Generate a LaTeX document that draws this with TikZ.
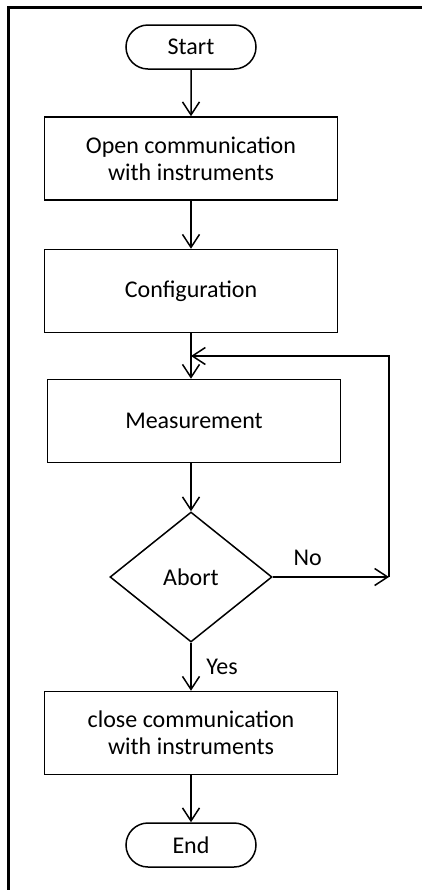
\documentclass[tikz,border=0pt]{standalone}
\usepackage{fontspec}
\setmainfont{Carlito}
\usetikzlibrary{shapes.geometric,shapes.misc,arrows.meta}

\begin{document}
\begin{tikzpicture}[x=0.5pt,y=-0.5pt,
		font=\fontsize{12}{13.5}\selectfont,
		box/.style={draw,line width=0.75pt,minimum width=146.5pt,minimum height=41.5pt,align=center,inner sep=0pt},
		term/.style={draw,line width=0.75pt,rounded rectangle,minimum width=65pt,minimum height=22pt,inner sep=0pt},
		decision/.style={draw,line width=0.75pt,diamond,minimum width=81pt,minimum height=65pt,inner sep=0pt},
		flow/.style={line width=0.75pt,-{Straight Barb[length=6.5pt,width=8.5pt]}}]
		\useasboundingbox (0,0) rectangle (422,890) ;
		\draw[line width=1.5pt] (8,890) -- (8,7) -- (422,7) ;

		\node[term] (start) at (191,47) {Start} ;
		\node[box] (open) at (191,158.5) {Open communication\\with instruments} ;
		\node[box] (config) at (191,291) {Configuration} ;
		\node[box] (meas) at (194,421) {Measurement} ;
		\node[decision] (abort) at (191,577) {Abort} ;
		\node[box] (close) at (191,733) {close communication\\with instruments} ;
		\node[term] (end) at (191,845) {End} ;

		\coordinate (loopR) at (389,577) ;
		\coordinate (loopT) at (389,356) ;

		\draw[flow] (start) -- (open) ;
		\draw[flow] (open) -- (config) ;
		\draw[flow] (config) -- (config.south |- meas.north) ;
		\draw[flow] (meas.south -| abort) -- (abort) ;
		\draw[flow] (abort.east) -- (loopR) node[pos=0.3,above=2pt] {No} ;
		\draw[flow] (loopR) -- (loopT) -- (loopT -| config.south) ;
		\draw[flow] (abort) -- (close) node[midway,right=4pt] {Yes} ;
		\draw[flow] (close) -- (end) ;
	\end{tikzpicture}
\end{document}
